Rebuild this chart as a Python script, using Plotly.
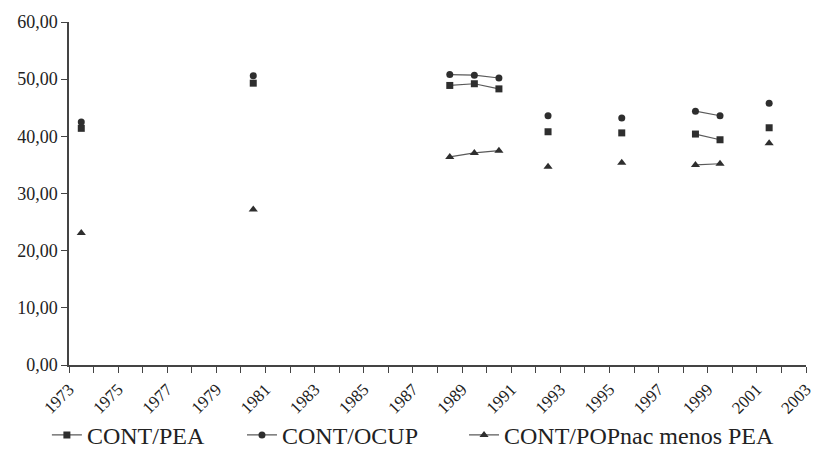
import plotly.graph_objects as go

years = list(range(1973, 2003))
data_years = [1973, 1980, 1988, 1989, 1990, 1992, 1995, 1998, 1999, 2001]
cont_pea = [41.4, 49.3, 48.9, 49.2, 48.3, 40.8, 40.6, 40.4, 39.4, 41.5]
cont_ocup = [42.5, 50.6, 50.8, 50.7, 50.2, 43.6, 43.2, 44.4, 43.6, 45.8]
cont_pop = [23.1, 27.2, 36.4, 37.1, 37.5, 34.7, 35.4, 35.0, 35.2, 38.8]
series_names = ["CONT/PEA", "CONT/OCUP", "CONT/POPnac menos PEA"]
y_ticks = [0, 10, 20, 30, 40, 50, 60]

def full(vals):
    d = dict(zip(data_years, vals))
    return [d.get(y) for y in years]

# category slot centre (Excel-style date axis: points between tick marks)
xs = [y + 0.5 for y in years]

symbols = ["square", "circle", "triangle-up"]
sizes = [7, 7, 8]
legend_ids = ["legend", "legend2", "legend3"]
legend_x = [-0.03, 0.2347, 0.536]
font = "Liberation Serif"

fig = go.Figure()
for name, vals, sym, sz, lid in zip(series_names, [cont_pea, cont_ocup, cont_pop], symbols, sizes, legend_ids):
    fig.add_trace(go.Scatter(
        x=xs, y=full(vals), name=name, mode="lines+markers",
        connectgaps=False, legend=lid,
        line=dict(color="#5a5a5a", width=1.2),
        marker=dict(symbol=sym, size=sz, color="#2e2e2e"),
    ))

legend_common = dict(orientation="h", xanchor="left", y=-0.205, yanchor="middle",
                     font=dict(size=24, family=font, color="#222222"),
                     itemwidth=30, bgcolor="rgba(0,0,0,0)")
fig.update_layout(
    width=819, height=461,
    margin=dict(l=69, r=13, t=22, b=96, autoexpand=False),
    paper_bgcolor="white", plot_bgcolor="white",
    separators=", ",
    font=dict(family=font, size=17, color="#222222"),
    showlegend=True,
    legend=dict(x=legend_x[0], **legend_common),
    legend2=dict(x=legend_x[1], **legend_common),
    legend3=dict(x=legend_x[2], **legend_common),
    xaxis=dict(range=[1973, 2003], tick0=1973, dtick=2, tickangle=-45, automargin=False,
               showgrid=False, zeroline=False, showline=True, linecolor="#444444", linewidth=1.5,
               ticks="outside", ticklen=6, tickcolor="#444444",
               minor=dict(dtick=1, ticks="outside", ticklen=6, tickcolor="#444444", showgrid=False),
               tickfont=dict(size=17, family=font)),
    yaxis=dict(range=[0, 60], tickvals=y_ticks, tickformat=".2f", automargin=False,
               showgrid=False, zeroline=False, showline=True, linecolor="#444444", linewidth=1.5,
               ticks="outside", ticklen=6, tickcolor="#444444",
               tickfont=dict(size=18, family=font)),
)
fig.write_html("out.html")
